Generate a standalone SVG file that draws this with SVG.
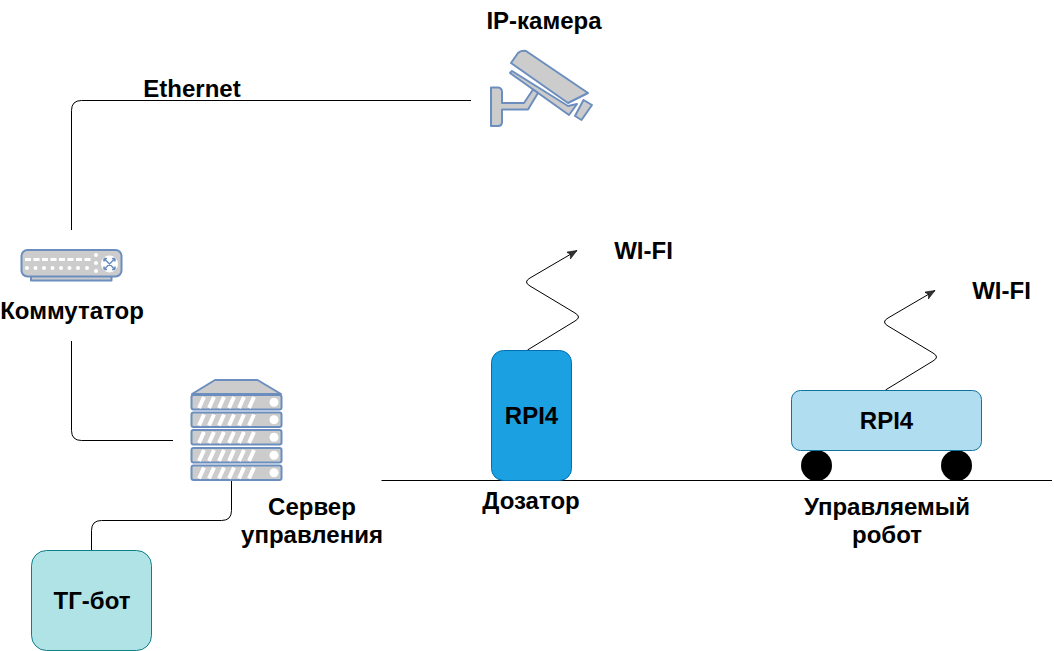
<svg xmlns="http://www.w3.org/2000/svg" width="1054" height="651" viewBox="0 0 1054 651">
<style>
text{font-family:"Liberation Sans",Arial,sans-serif;font-weight:bold;font-size:24px;fill:#000;text-anchor:middle}
.c{fill:none;stroke:#000;stroke-width:1}
.ic{fill:#cccccc;stroke:#6c8ebf;stroke-width:2;stroke-linejoin:round}
.w{fill:#fff;stroke:none}
.s{stroke:#fff;stroke-width:4;fill:none}
</style>
<defs>
<marker id="a" markerWidth="12" markerHeight="10" refX="10" refY="4" orient="auto" markerUnits="userSpaceOnUse"><path d="M0 0L10 4L0 8L2.500 4Z" fill="#333" stroke="#000" stroke-width=".5"/></marker>
<g id="row"><rect x="191.500" y="0" width="90" height="14.500" rx="2" class="ic"/><path class="s" d="M199 13L204 2M209 13L214 2M219 13L224 2M229 13L234 2M239 13L244 2M249 13L254 2"/><circle cx="274" cy="7.200" r="4.500" class="w"/></g>
</defs>
<g id="connectors">
<path class="c" d="M471 100.500H81.500Q71.500 100.500 71.500 110.500V230"/>
<path class="c" d="M71.500 341V430.500Q71.500 440.500 81.500 440.500H173"/>
<path class="c" d="M231.500 481V510.500Q231.500 520.500 221.500 520.500H101.500Q91.500 520.500 91.500 530.500V550"/>
<path class="c" marker-end="url(#a)" d="M527.500 350L575 321Q582 317 575 313L530 286Q523 282 530 278L577 250.500"/>
<path class="c" marker-end="url(#a)" d="M885.500 390L933 361Q940 357 933 353L888 326Q881 322 888 318L935 290.500"/>
<path d="M381.500 480.500H1052" fill="none" stroke="#000" stroke-width="1"/>
</g>
<g id="camera">
<path class="ic" d="M511 63L518 53Q521 50 526 51L588 93L568 103Z"/>
<path class="ic" d="M510 73L512 71L568 106L577 104L569 115Z"/>
<path class="ic" d="M491 87.500H498Q502 88 502 92V103H524L533 89.500L538 93L528 109.500H502V122Q502 126 498 126H491Z"/>
<path class="ic" d="M583.500 100L592 105L581.500 120L575 116Z"/>
</g>
<g id="switch">
<rect x="31" y="276" width="80.500" height="4.500" class="ic" stroke-width="1"/>
<rect x="21.500" y="250" width="100" height="26.500" rx="6" class="ic"/>
<path class="w" d="M25 258h6v3h-6zM33.500 258h6v3h-6zM42 258h6v3h-6zM50.500 258h6v3h-6zM59 258h6v3h-6zM67.500 258h6v3h-6zM76 258h6v3h-6zM84.500 258h6v3h-6z"/>
<g class="w"><circle cx="27" cy="268" r="2"/><circle cx="35.500" cy="268" r="2"/><circle cx="44" cy="268" r="2"/><circle cx="52.500" cy="268" r="2"/><circle cx="61" cy="268" r="2"/><circle cx="69.500" cy="268" r="2"/><circle cx="78" cy="268" r="2"/><circle cx="87" cy="268" r="2"/><circle cx="96" cy="255" r="2"/><circle cx="96" cy="263" r="2"/><circle cx="96" cy="271" r="2"/><circle cx="109.500" cy="264" r="8.500"/></g>
<path d="M104 258.500L115 269.500M115 258.500L104 269.500M104 258.500h3M104 258.500v3M115 258.500h-3M115 258.500v3M104 269.500h3M104 269.500v-3M115 269.500h-3M115 269.500v-3" stroke="#6c8ebf" stroke-width="1.500" fill="none"/>
</g>
<g id="server">
<path class="ic" d="M192 394L215 380H257.500L281 394Z"/>
<use href="#row" y="395"/><use href="#row" y="412.500"/><use href="#row" y="430"/><use href="#row" y="448"/><use href="#row" y="465.500"/>
</g>
<g id="tg-bot"><rect x="31.500" y="550.500" width="120" height="100" rx="15" fill="#b0e3e6" stroke="#0e8088"/><text x="92" y="609">ТГ-бот</text></g>
<g id="dozator"><rect x="491.500" y="350.500" width="80" height="130" rx="12" fill="#1ba1e2" stroke="#006eaf"/><text x="531.500" y="424">RPI4</text></g>
<g id="robot">
<circle cx="816.500" cy="465.500" r="15.500" fill="#000"/><circle cx="956.500" cy="465.500" r="15.500" fill="#000"/>
<rect x="791.500" y="390.500" width="190" height="60" rx="9" fill="#b1ddf0" stroke="#10739e"/><text x="886.500" y="429">RPI4</text></g>
<g id="labels">
<text x="544" y="29">IP-камера</text>
<text x="192" y="97">Ethernet</text>
<text x="72" y="319">Коммутатор</text>
<text x="643.500" y="259">WI-FI</text>
<text x="1001.500" y="299">WI-FI</text>
<text x="531" y="509">Дозатор</text>
<text x="312" y="515">Сервер</text>
<text x="312" y="543">управления</text>
<text x="887" y="515">Управляемый</text>
<text x="887" y="543">робот</text>
</g>
</svg>
